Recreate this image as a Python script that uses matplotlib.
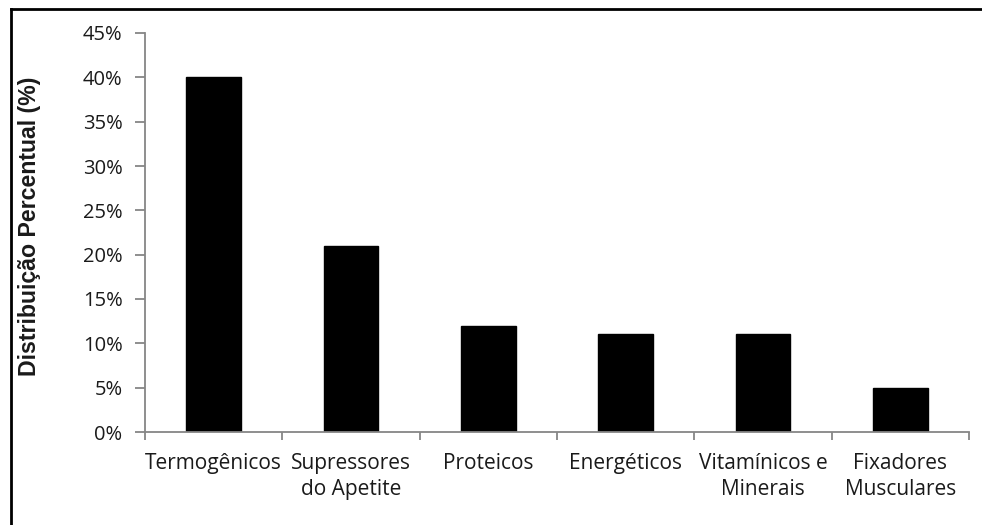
import matplotlib
matplotlib.use("Agg")
import matplotlib.pyplot as plt
from matplotlib.lines import Line2D
from matplotlib.ticker import PercentFormatter, MultipleLocator

categories = ["Termogênicos", "Supressores\ndo Apetite", "Proteicos", "Energéticos",
              "Vitamínicos e\nMinerais", "Fixadores\nMusculares"]
values = [40, 21, 12, 11, 11, 5]

W, H = 982, 525
fig = plt.figure(figsize=(W / 100, H / 100), dpi=100)
ax = fig.add_axes([145 / W, 1 - 432 / H, (969 - 145) / W, (432 - 33) / H])

x = list(range(len(categories)))
ax.bar(x, values, width=0.4, color="black", edgecolor="black")

ax.set_xlim(-0.5, len(categories) - 0.5)
ax.set_ylim(0, 45)
ax.yaxis.set_major_locator(MultipleLocator(5))
ax.yaxis.set_major_formatter(PercentFormatter(decimals=0))

axis_grey = "#868686"
text_col = "#1a1a1a"
for side in ("top", "right"):
    ax.spines[side].set_visible(False)
for side in ("left", "bottom"):
    ax.spines[side].set_color(axis_grey)
    ax.spines[side].set_linewidth(1.3)

# category boundaries carry the ticks
ax.set_xticks([i - 0.5 for i in range(len(categories) + 1)])
ax.set_xticklabels([])
ax.tick_params(axis="x", direction="out", length=6, color=axis_grey, width=1.3)
ax.tick_params(axis="y", direction="out", length=7.2, color=axis_grey, width=1.3,
               labelsize=14.5, labelcolor=text_col, pad=9)
for lbl in ax.get_yticklabels():
    lbl.set_family("Open Sans")

for i, name in enumerate(categories):
    ax.text(i, -2.4, name, ha="center", va="top", fontsize=15, family="Open Sans",
            color=text_col, linespacing=1.3, transform=ax.transData)

ax.set_ylabel("Distribuição Percentual (%)", fontsize=16.7, fontweight="bold",
              family="Liberation Sans", color=text_col)
ax.yaxis.set_label_coords((41 - 145) / (969 - 145), (432 - 226) / (432 - 33))

# outer frame
fig.add_artist(Line2D([11 / W, 11 / W], [0, 1 - 8.5 / H], transform=fig.transFigure,
                      color="black", lw=2))
fig.add_artist(Line2D([11 / W, 1], [1 - 8.5 / H, 1 - 8.5 / H], transform=fig.transFigure,
                      color="black", lw=2))

fig.savefig("out.png", dpi=100)
